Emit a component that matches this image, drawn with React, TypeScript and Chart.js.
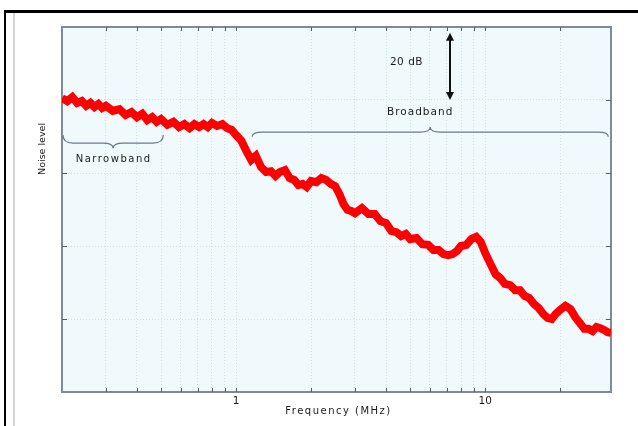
import React, { useEffect, useRef } from 'react';
import { Chart, registerables } from 'chart.js';
Chart.register(...registerables);

const frequencyMHz = [
  0.2, 0.21, 0.22, 0.23, 0.24, 0.25, 0.26, 0.27, 0.28, 0.29, 0.3,
  0.32, 0.34, 0.36, 0.38, 0.4, 0.42, 0.44, 0.46, 0.48, 0.5,
  0.53, 0.56, 0.59, 0.62, 0.65, 0.68, 0.71, 0.74, 0.77, 0.8, 0.84, 0.88, 0.92, 0.96, 1.0,
  1.05, 1.1, 1.15, 1.2, 1.26, 1.32, 1.38, 1.44, 1.5, 1.57, 1.64, 1.71, 1.78, 1.85, 1.92, 2.0,
  2.1, 2.2, 2.3, 2.4, 2.5, 2.6, 2.7, 2.8, 2.9, 3.0,
  3.2, 3.4, 3.6, 3.8, 4.0, 4.2, 4.4, 4.6, 4.8, 5.0,
  5.3, 5.6, 5.9, 6.2, 6.5, 6.8, 7.1, 7.4, 7.7, 8.0, 8.4, 8.8, 9.2, 9.6, 10,
  10.5, 11, 11.5, 12, 12.6, 13.2, 13.8, 14.4, 15, 15.7, 16.4, 17.1, 17.8, 18.5, 19.2, 20,
  21, 22, 23, 24, 25, 26, 27, 28, 29, 30, 31, 32,
];

const noiseLevel = [
  80.5, 79.7, 80.8, 79.2, 79.7, 78.4, 79.2, 78.1, 78.9, 77.8, 78.4,
  77.0, 77.5, 75.9, 76.7, 75.3, 76.2, 74.5, 75.3, 74.0, 74.8,
  73.2, 74.0, 72.6, 73.4, 72.3, 73.4, 72.6, 73.4, 72.6, 73.7, 72.9, 73.4, 72.3, 71.8, 70.4,
  68.8, 66.0, 63.6, 64.7, 61.6, 60.3, 60.5, 59.2, 60.3, 60.8, 58.6, 58.1, 56.7, 57.0, 56.2, 57.8,
  57.5, 58.6, 58.1, 57.0, 56.4, 54.2, 51.5, 49.9, 49.6, 49.0,
  50.4, 48.8, 48.8, 46.8, 46.3, 44.1, 43.8, 42.7, 43.3, 41.9,
  42.2, 40.5, 40.3, 38.9, 38.9, 37.8, 37.5, 37.8, 38.6, 40.0, 40.3, 41.9, 42.5, 41.1, 38.1,
  35.1, 32.3, 31.2, 29.6, 29.3, 27.9, 27.9, 26.3, 25.8, 24.1, 23.0, 21.4, 20.3, 20.0, 21.4, 22.5,
  23.6, 22.7, 20.5, 18.9, 17.3, 17.3, 16.7, 17.8, 17.5, 17.0, 16.4, 16.2,
];

const xTickValues = [0.3, 0.4, 0.5, 0.6, 0.7, 0.8, 0.9, 1, 2, 3, 4, 5, 6, 7, 8, 9, 10, 20];
const xTickLabels: Record<string, string> = { '1': '1', '10': '10' };
const yTickValues = [20, 40, 60, 80];

const xAxisTitle = 'Frequency (MHz)';
const yAxisTitle = 'Noise level';
const narrowLabel = 'Narrowband';
const broadLabel = 'Broadband';
const dbLabel = '20 dB';

// annotation anchors in data units
const narrowRange = [0.2, 0.51];
const narrowLevels = { end: 70.4, mid: 68.2, point: 66.8 };
const broadRange = [1.16, 31.2];
const broadLevels = { end: 69.9, mid: 71.2, point: 72.6 };
const arrowFreq = 7.2;
const arrowLevels = [98.4, 80];

const FONT = '"DejaVu Sans", sans-serif';

function brace(ctx: CanvasRenderingContext2D, x1: number, x2: number, yEnd: number, yMid: number, yPt: number) {
  const xc = (x1 + x2) / 2;
  const r = 10;
  ctx.beginPath();
  ctx.moveTo(x1, yEnd);
  ctx.quadraticCurveTo(x1, yMid, x1 + r, yMid);
  ctx.lineTo(xc - r, yMid);
  ctx.quadraticCurveTo(xc, yMid, xc, yPt);
  ctx.quadraticCurveTo(xc, yMid, xc + r, yMid);
  ctx.lineTo(x2 - r, yMid);
  ctx.quadraticCurveTo(x2, yMid, x2, yEnd);
  ctx.stroke();
}

const overlay = {
  id: 'overlay',
  beforeDraw(chart: any) {
    const { ctx, chartArea: a } = chart;
    ctx.save();
    ctx.fillStyle = '#f0fafd';
    ctx.fillRect(a.left, a.top, a.right - a.left, a.bottom - a.top);
    ctx.restore();
  },
  beforeDatasetsDraw(chart: any) {
    const { ctx, chartArea: a, scales } = chart;
    const xs = scales.x, ys = scales.y;
    ctx.save();
    ctx.strokeStyle = '#7f8c98';
    ctx.lineWidth = 2;
    ctx.strokeRect(a.left, a.top, a.right - a.left, a.bottom - a.top);
    ctx.lineWidth = 1;
    ctx.strokeStyle = '#55606b';
    ctx.beginPath();
    xTickValues.forEach((v) => {
      const px = Math.round(xs.getPixelForValue(v)) + 0.5;
      ctx.moveTo(px, a.bottom); ctx.lineTo(px, a.bottom - 4);
      ctx.moveTo(px, a.top); ctx.lineTo(px, a.top + 4);
    });
    yTickValues.forEach((v) => {
      const py = Math.round(ys.getPixelForValue(v)) + 0.5;
      ctx.moveTo(a.left, py); ctx.lineTo(a.left + 5, py);
      ctx.moveTo(a.right, py); ctx.lineTo(a.right - 5, py);
    });
    ctx.stroke();
    ctx.restore();
  },
  afterDraw(chart: any) {
    const { ctx, chartArea: a, scales } = chart;
    const xs = scales.x, ys = scales.y;
    ctx.save();
    // braces
    ctx.strokeStyle = '#6a7888';
    ctx.lineWidth = 1.2;
    brace(ctx, xs.getPixelForValue(narrowRange[0]) + 1, xs.getPixelForValue(narrowRange[1]),
      ys.getPixelForValue(narrowLevels.end), ys.getPixelForValue(narrowLevels.mid), ys.getPixelForValue(narrowLevels.point));
    brace(ctx, xs.getPixelForValue(broadRange[0]), xs.getPixelForValue(broadRange[1]),
      ys.getPixelForValue(broadLevels.end), ys.getPixelForValue(broadLevels.mid), ys.getPixelForValue(broadLevels.point));

    // arrow
    const ax = Math.round(xs.getPixelForValue(arrowFreq));
    const ay1 = ys.getPixelForValue(arrowLevels[0]);
    const ay2 = ys.getPixelForValue(arrowLevels[1]);
    ctx.strokeStyle = '#111';
    ctx.fillStyle = '#111';
    ctx.lineWidth = 2;
    ctx.beginPath();
    ctx.moveTo(ax, ay1 + 5); ctx.lineTo(ax, ay2 - 5);
    ctx.stroke();
    ctx.beginPath();
    ctx.moveTo(ax, ay1); ctx.lineTo(ax - 4, ay1 + 8); ctx.lineTo(ax + 4, ay1 + 8); ctx.closePath();
    ctx.moveTo(ax, ay2); ctx.lineTo(ax - 4, ay2 - 8); ctx.lineTo(ax + 4, ay2 - 8); ctx.closePath();
    ctx.fill();

    // texts
    ctx.fillStyle = '#1a1a1a';
    ctx.textBaseline = 'middle';
    ctx.textAlign = 'center';
    (ctx as any).letterSpacing = '1.5px';
    ctx.font = `10px ${FONT}`;
    ctx.fillText(narrowLabel, (xs.getPixelForValue(narrowRange[0]) + xs.getPixelForValue(narrowRange[1])) / 2 + 1, ys.getPixelForValue(narrowLevels.point) + 11);
    (ctx as any).letterSpacing = '1px';
    ctx.font = `10.5px ${FONT}`;
    ctx.fillText(broadLabel, xs.getPixelForValue(6.07) - 11, ys.getPixelForValue(broadLevels.point) - 15);
    (ctx as any).letterSpacing = '0.5px';
    ctx.textAlign = 'right';
    ctx.fillText(dbLabel, ax - 27, ys.getPixelForValue(90.3));

    // axis titles
    ctx.textAlign = 'center';
    (ctx as any).letterSpacing = '1.5px';
    ctx.font = `10px ${FONT}`;
    ctx.fillText(xAxisTitle, (a.left + a.right) / 2 + 2, a.bottom + 19);
    (ctx as any).letterSpacing = '0px';
    ctx.translate(a.left - 19, ys.getPixelForValue(66.6));
    ctx.rotate(-Math.PI / 2);
    ctx.font = `9.5px ${FONT}`;
    ctx.fillText(yAxisTitle, 0, 0);
    ctx.restore();
  },
};

export default function App() {
  const ref = useRef<HTMLCanvasElement | null>(null);
  useEffect(() => {
    if (!ref.current) return;
    const chart = new Chart(ref.current, {
      type: 'line',
      data: {
        datasets: [
          {
            data: frequencyMHz.map((f, i) => ({ x: f, y: noiseLevel[i] })),
            borderColor: '#ff0000',
            borderWidth: 8,
            pointRadius: 0,
            tension: 0,
            borderJoinStyle: 'miter',
          },
        ],
      },
      options: {
        animation: false,
        responsive: false,
        devicePixelRatio: 1,
        layout: { padding: { left: 0, top: 27, right: 27, bottom: 0 } },
        plugins: { legend: { display: false }, tooltip: { enabled: false } },
        scales: {
          x: {
            type: 'logarithmic',
            min: 0.2,
            max: 32,
            afterBuildTicks: (s: any) => { s.ticks = xTickValues.map((v) => ({ value: v })); },
            afterFit: (s: any) => { s.height = 34; },
            grid: { drawTicks: false, color: '#d3e0e8', lineWidth: 1 },
            border: { display: false, dash: [1, 2] },
            ticks: {
              autoSkip: false,
              maxRotation: 0,
              padding: 3,
              color: '#1a1a1a',
              font: { family: 'DejaVu Sans', size: 10.5 },
              callback: (v: any) => xTickLabels[String(v)] ?? '',
            },
          },
          y: {
            min: 0,
            max: 100,
            afterBuildTicks: (s: any) => { s.ticks = yTickValues.map((v) => ({ value: v })); },
            afterFit: (s: any) => { s.width = 62; },
            grid: { drawTicks: false, color: '#d3e0e8', lineWidth: 1 },
            border: { display: false, dash: [1, 2] },
            ticks: { display: false },
          },
        },
      },
      plugins: [overlay],
    } as any);
    return () => chart.destroy();
  }, []);

  return (
    <div style={{ position: 'fixed', left: 0, top: 0, width: 638, height: 426, background: '#fff', overflow: 'hidden' }}>
      <canvas ref={ref} width={638} height={426} style={{ position: 'absolute', left: 0, top: 0 }} />
      <div style={{ position: 'absolute', left: 4, top: 10, width: 634, height: 3, background: '#000' }} />
      <div style={{ position: 'absolute', left: 4, top: 10, width: 2, height: 416, background: '#000' }} />
      <div style={{ position: 'absolute', left: 13, top: 13, width: 2, height: 413, background: '#d4d4d4' }} />
    </div>
  );
}
